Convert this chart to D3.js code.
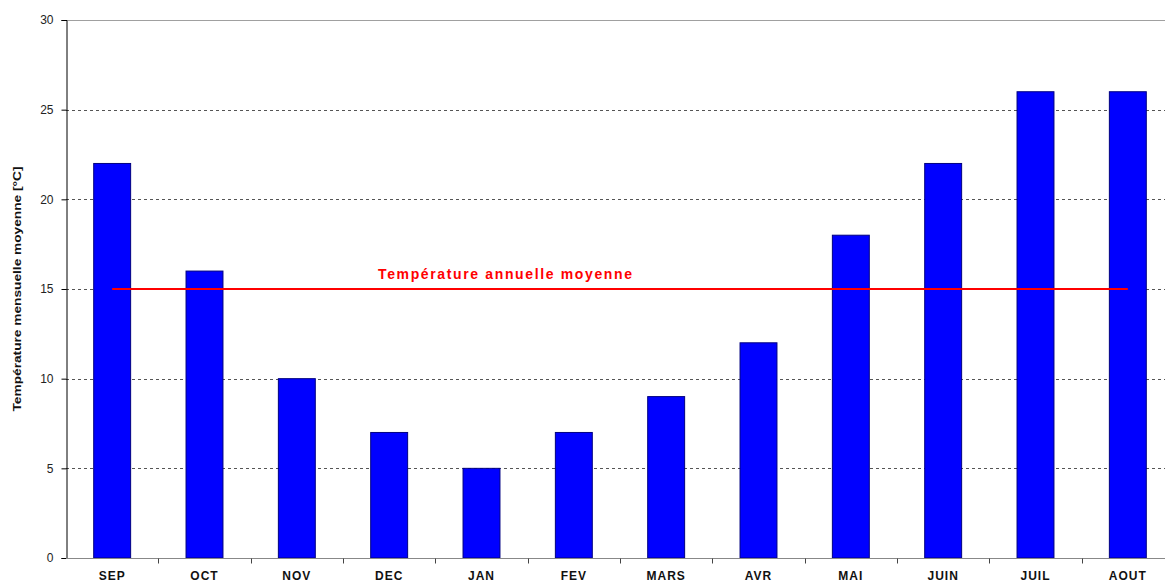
<!DOCTYPE html>
<html>
<head>
<meta charset="utf-8">
<script src="https://cdn.jsdelivr.net/npm/d3@7"></script>
<style>
  body { margin: 0; background: #fff; overflow: hidden; }
  svg { display: block; font-family: "Liberation Sans", Arial, sans-serif; }
</style>
</head>
<body>
<svg id="chart" width="1165" height="582"></svg>
<script>
// chart data
const months = ["SEP", "OCT", "NOV", "DEC", "JAN", "FEV", "MARS", "AVR", "MAI", "JUIN", "JUIL", "AOUT"];
const temps = [22, 16, 10, 7, 5, 7, 9, 12, 18, 22, 26, 26];
const yTicks = [0, 5, 10, 15, 20, 25, 30];
const annualMean = 15;
const meanLabel = "Température annuelle moyenne";
const yTitle = "Température mensuelle moyenne [°C]";

const svg = d3.select("#chart");
const margin = { top: 20, left: 66, bottom: 558 };
const plotRight = 1174;

const x = d3.scaleBand()
  .domain(months)
  .range([margin.left, plotRight])
  .paddingInner(0.6)
  .paddingOuter(0.3);

const xBand = d3.scaleBand().domain(months).range([margin.left, plotRight]);

const y = d3.scaleLinear()
  .domain([0, 30])
  .range([margin.bottom, margin.top]);

// grid lines
svg.append("g")
  .selectAll("line")
  .data(yTicks.filter(d => d > 0))
  .enter()
  .append("line")
  .attr("x1", margin.left)
  .attr("x2", 1165)
  .attr("y1", d => Math.round(y(d)) + 0.5)
  .attr("y2", d => Math.round(y(d)) + 0.5)
  .attr("stroke", d => d === 30 ? "#a0a0a0" : "#555")
  .attr("stroke-dasharray", d => d === 30 ? null : "3,3");

// bars
svg.append("g")
  .selectAll("rect")
  .data(temps)
  .enter()
  .append("rect")
  .attr("x", (d, i) => x(months[i]))
  .attr("y", d => y(d))
  .attr("width", x.bandwidth())
  .attr("height", d => y(0) - y(d))
  .attr("fill", "#0000ff")
  .attr("stroke", "#000080")
  .attr("stroke-width", 1);

// y axis
const yAxis = d3.axisLeft(y).tickValues(yTicks).tickSize(5).tickPadding(8);
const gy = svg.append("g")
  .attr("transform", `translate(${margin.left + 0.5},0)`)
  .call(yAxis);
gy.select(".domain").attr("stroke", "#000");
gy.selectAll("text")
  .attr("font-size", 12)
  .attr("fill", "#222")
  .attr("font-family", "Liberation Sans, Arial, sans-serif");

// x axis
const gx = svg.append("g")
  .attr("transform", `translate(0,${margin.bottom + 0.5})`);
gx.append("line")
  .attr("x1", margin.left)
  .attr("x2", 1165)
  .attr("stroke", "#888");
gx.selectAll(".tick")
  .data(months.slice(1))
  .enter()
  .append("line")
  .attr("x1", d => Math.round(xBand(d)) + 0.5)
  .attr("x2", d => Math.round(xBand(d)) + 0.5)
  .attr("y1", 0)
  .attr("y2", 5)
  .attr("stroke", "#444");
gx.selectAll("text")
  .data(months)
  .enter()
  .append("text")
  .attr("x", d => x(d) + x.bandwidth() / 2)
  .attr("y", 21.5)
  .attr("text-anchor", "middle")
  .attr("font-size", 12)
  .attr("font-weight", "bold")
  .attr("letter-spacing", 1)
  .attr("fill", "#111")
  .text(d => d);

// y axis title
svg.append("text")
  .attr("transform", `translate(21,${y(15)}) rotate(-90)`)
  .attr("text-anchor", "middle")
  .attr("font-size", 11.5)
  .attr("font-weight", "bold")
  .attr("fill", "#111")
  .attr("textLength", 245)
  .attr("lengthAdjust", "spacingAndGlyphs")
  .text(yTitle);

// annual mean line
const cx0 = x(months[0]) + x.bandwidth() / 2;
const cx1 = x(months[months.length - 1]) + x.bandwidth() / 2;
svg.append("line")
  .attr("x1", cx0)
  .attr("x2", cx1)
  .attr("y1", y(annualMean))
  .attr("y2", y(annualMean))
  .attr("stroke", "#ff0000")
  .attr("stroke-width", 2);

svg.append("text")
  .attr("x", 378)
  .attr("y", y(annualMean) - 10)
  .attr("font-size", 14)
  .attr("font-weight", "bold")
  .attr("fill", "#ff0000")
  .attr("textLength", 254)
  .attr("lengthAdjust", "spacing")
  .text(meanLabel);
</script>
</body>
</html>
